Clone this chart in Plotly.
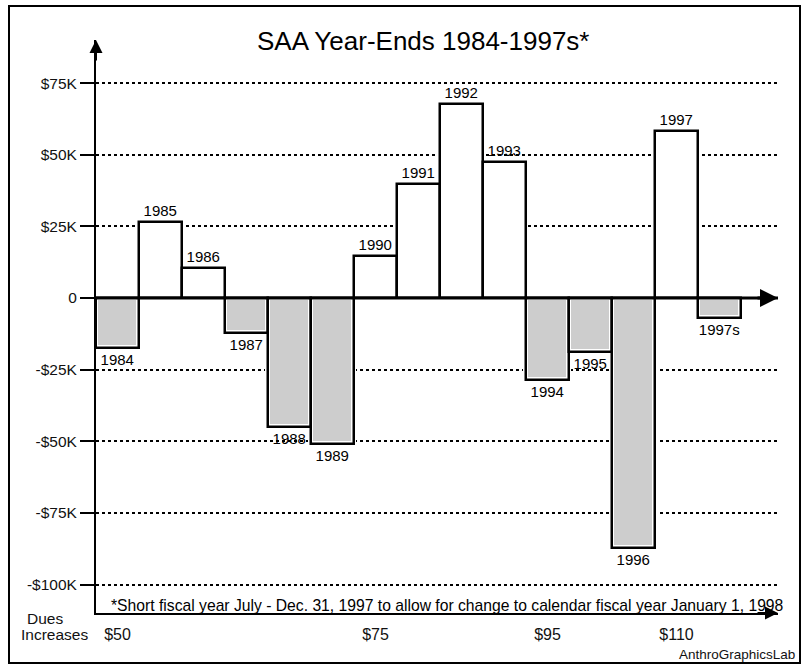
import plotly.graph_objects as go

# ---- data ----
years = ["1984", "1985", "1986", "1987", "1988", "1989", "1990", "1991",
         "1992", "1993", "1994", "1995", "1996", "1997", "1997s"]
values_k = [-17.5, 26.5, 10.5, -12.2, -45.0, -51.0, 14.7, 39.8,
            67.7, 47.5, -28.6, -18.8, -87.3, 58.3, -7.0]
y_tick_vals = [75, 50, 25, 0, -25, -50, -75, -100]
y_tick_text = ["$75K", "$50K", "$25K", "0", "-$25K", "-$50K", "-$75K", "-$100K"]
dues_years = ["1984", "1990", "1994", "1997"]
dues_labels = ["$50", "$75", "$95", "$110"]

title_text = "SAA Year-Ends 1984-1997s*"
footnote = ("*Short fiscal year July - Dec. 31, 1997 to allow for change to "
            "calendar fiscal year January 1, 1998")
credit = "AnthroGraphicsLab"

FONT = "Liberation Sans, Arial, Helvetica, sans-serif"

fill_colors = ["#cdcdcd" if v < 0 else "white" for v in values_k]

fig = go.Figure()
# inner fill (white inner rim via white line)
fig.add_trace(go.Bar(
    x=years, y=values_k, width=1,
    marker=dict(color=fill_colors, line=dict(color="white", width=5)),
    hoverinfo="skip", showlegend=False,
))
# black outline + year labels
fig.add_trace(go.Bar(
    x=years, y=values_k, width=1,
    marker=dict(color="rgba(0,0,0,0)", line=dict(color="black", width=2.5)),
    text=years, textposition="outside", constraintext="none",
    textfont=dict(family=FONT, size=15, color="black"),
    cliponaxis=False, hoverinfo="skip", showlegend=False,
))

W, H = 805, 665
L, R, T, B = 96, 27, 40, 52
pw, ph = W - L - R, H - T - B

def px_x(p):
    return (p - L) / pw

def px_y(p):
    return (H - B - p) / ph

fig.update_layout(
    width=W, height=H,
    margin=dict(l=L, r=R, t=T, b=B),
    paper_bgcolor="white", plot_bgcolor="white",
    barmode="overlay", bargap=0,
    font=dict(family=FONT, color="black"),
    xaxis=dict(
        type="category", range=[-0.5, 15.36],
        showgrid=False, zeroline=False,
        showline=True, linecolor="black", linewidth=2,
        tickmode="array", tickvals=dues_years, ticktext=dues_labels,
        ticks="outside", ticklen=6, tickcolor="rgba(0,0,0,0)",
        tickfont=dict(family=FONT, size=16, color="#111"),
    ),
    yaxis=dict(
        range=[-109.9, 90.05],
        tickmode="array", tickvals=y_tick_vals, ticktext=y_tick_text,
        showgrid=True, gridcolor="black", gridwidth=1.5, griddash="dot",
        zeroline=False,
        showline=True, linecolor="black", linewidth=2,
        ticks="outside", ticklen=14, tickwidth=2, tickcolor="black",
        tickfont=dict(family=FONT, size=15.5, color="#111"),
    ),
)

# zero axis line over bars
fig.add_shape(type="line", xref="paper", yref="y", x0=0, x1=1, y0=0, y1=0,
              line=dict(color="black", width=3), layer="above")

# frame
fig.add_shape(type="rect", xref="paper", yref="paper",
              x0=px_x(9), x1=px_x(800), y0=px_y(663), y1=px_y(6),
              line=dict(color="black", width=2), fillcolor="rgba(0,0,0,0)",
              layer="above")

ann = []
# arrows
ann.append(dict(xref="paper", yref="paper", x=0, y=1, ax=0, ay=22,
                showarrow=True, arrowhead=2, arrowsize=1.3, arrowwidth=2,
                arrowcolor="black", text=""))
ann.append(dict(xref="paper", yref="y", x=1, y=0, ax=-22, ay=0,
                showarrow=True, arrowhead=2, arrowsize=1.2, arrowwidth=3,
                arrowcolor="black", text=""))
ann.append(dict(xref="paper", yref="paper", x=1, y=0, ax=-22, ay=0,
                showarrow=True, arrowhead=2, arrowsize=1.3, arrowwidth=2,
                arrowcolor="black", text=""))
# title
ann.append(dict(xref="paper", yref="paper", x=px_x(423), y=px_y(41),
                text=title_text, showarrow=False, xanchor="center", yanchor="middle",
                font=dict(family=FONT, size=26, color="black")))
# footnote
ann.append(dict(xref="paper", yref="paper", x=px_x(109), y=px_y(605),
                text=footnote, showarrow=False, xanchor="left", yanchor="middle",
                font=dict(family=FONT, size=15.7, color="black")))
# dues increases label
ann.append(dict(xref="paper", yref="paper", x=px_x(45), y=px_y(618),
                text="Dues", showarrow=False, xanchor="center",
                yanchor="middle", font=dict(family=FONT, size=15.5, color="#111")))
ann.append(dict(xref="paper", yref="paper", x=px_x(54), y=px_y(634),
                text="Increases", showarrow=False, xanchor="center",
                yanchor="middle", font=dict(family=FONT, size=15.5, color="#111")))
# credit
ann.append(dict(xref="paper", yref="paper", x=px_x(797), y=px_y(654),
                text=credit, showarrow=False, xanchor="right", yanchor="middle",
                font=dict(family=FONT, size=13.5, color="#111")))
fig.update_layout(annotations=ann)

fig.write_html("out.html", config={"displayModeBar": False},
               post_script="document.body.style.margin='0';")
